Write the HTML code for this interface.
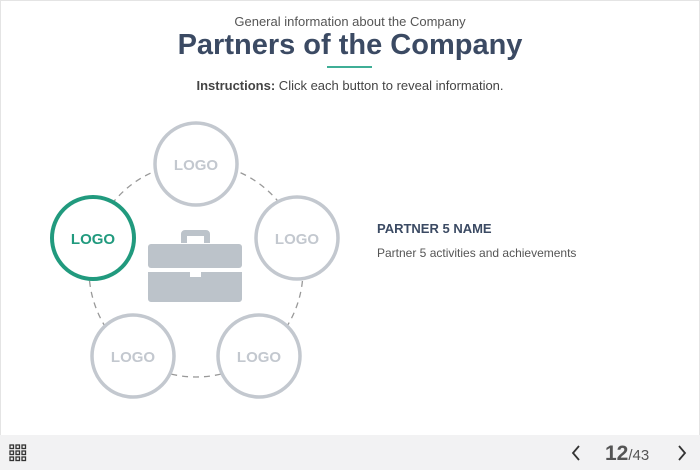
<!DOCTYPE html>
<html><head><style>
body{margin:0;width:700px;height:470px;overflow:hidden;background:#fff;font-family:"Liberation Sans",sans-serif;position:relative}
.frame{position:absolute;left:0;top:0;width:698px;height:434px;border:1px solid #e4e4e4;border-bottom:none}
.t{position:absolute;width:700px;text-align:center;left:0}
.foot{position:absolute;left:0;top:435px;width:700px;height:35px;background:#f2f2f3}
</style></head><body>
<div class="frame"></div>
<div class="t" style="top:14px;font-size:13px;color:#555">General information about the Company</div>
<div class="t" style="top:29px;font-size:29px;font-weight:bold;color:#3b4a63">Partners of the Company</div>
<div style="position:absolute;left:327px;top:66px;width:45px;height:2px;background:#3fae96"></div>
<div class="t" style="top:78px;font-size:13px;color:#444"><b>Instructions:</b> Click each button to reveal information.</div>
<svg style="position:absolute;left:0;top:0" width="700" height="470">
<circle cx="196" cy="270" r="107" fill="none" stroke="#999" stroke-width="1.3" stroke-dasharray="6,5"/>
<g fill="#fff" stroke="#c3c8cf" stroke-width="3.5">
<circle cx="196" cy="164" r="41"/><circle cx="297" cy="238" r="41"/>
<circle cx="133" cy="356" r="41"/><circle cx="259" cy="356" r="41"/></g>
<circle cx="93" cy="238" r="41" fill="#fff" stroke="#219a7e" stroke-width="4"/>
<g font-family="Liberation Sans" font-weight="bold" font-size="15" text-anchor="middle" fill="#c3c8cf">
<text x="196" y="170">LOGO</text><text x="297" y="244">LOGO</text>
<text x="133" y="362">LOGO</text><text x="259" y="362">LOGO</text>
<text x="93" y="244" fill="#219a7e">LOGO</text></g>
<g fill="#bcc3ca">
<path d="M181 243v-9a4 4 0 0 1 4-4h21a4 4 0 0 1 4 4v9h-6v-7h-17v7z"/>
<rect x="148" y="244" width="94" height="24" rx="3"/>
<path d="M148 272h42v5h11v-5h41v27a3 3 0 0 1-3 3h-88a3 3 0 0 1-3-3z"/>
</g>
</svg>
<div style="position:absolute;left:377px;top:221px;font-size:13px;font-weight:bold;color:#3b4a63">PARTNER 5 NAME</div>
<div style="position:absolute;left:377px;top:246px;font-size:12px;color:#555">Partner 5 activities and achievements</div>
<div class="foot">
<svg style="position:absolute;left:9px;top:9px" width="18" height="18"><g fill="none" stroke="#333" stroke-width="1.3">
<rect x="1" y="1" width="3.5" height="3.5"/><rect x="7" y="1" width="3.5" height="3.5"/><rect x="13" y="1" width="3.5" height="3.5"/>
<rect x="1" y="7" width="3.5" height="3.5"/><rect x="7" y="7" width="3.5" height="3.5"/><rect x="13" y="7" width="3.5" height="3.5"/>
<rect x="1" y="13" width="3.5" height="3.5"/><rect x="7" y="13" width="3.5" height="3.5"/><rect x="13" y="13" width="3.5" height="3.5"/></g></svg>
<svg style="position:absolute;left:570px;top:9px" width="12" height="18"><path d="M9 2 3 9l6 7" fill="none" stroke="#333" stroke-width="1.8"/></svg>
<div style="position:absolute;left:605px;top:7px;color:#555"><span style="font-size:21px;font-weight:bold">12</span><span style="font-size:15px">/43</span></div>
<svg style="position:absolute;left:676px;top:9px" width="12" height="18"><path d="M3 2l6 7-6 7" fill="none" stroke="#333" stroke-width="1.8"/></svg>
</div>
</body></html>
